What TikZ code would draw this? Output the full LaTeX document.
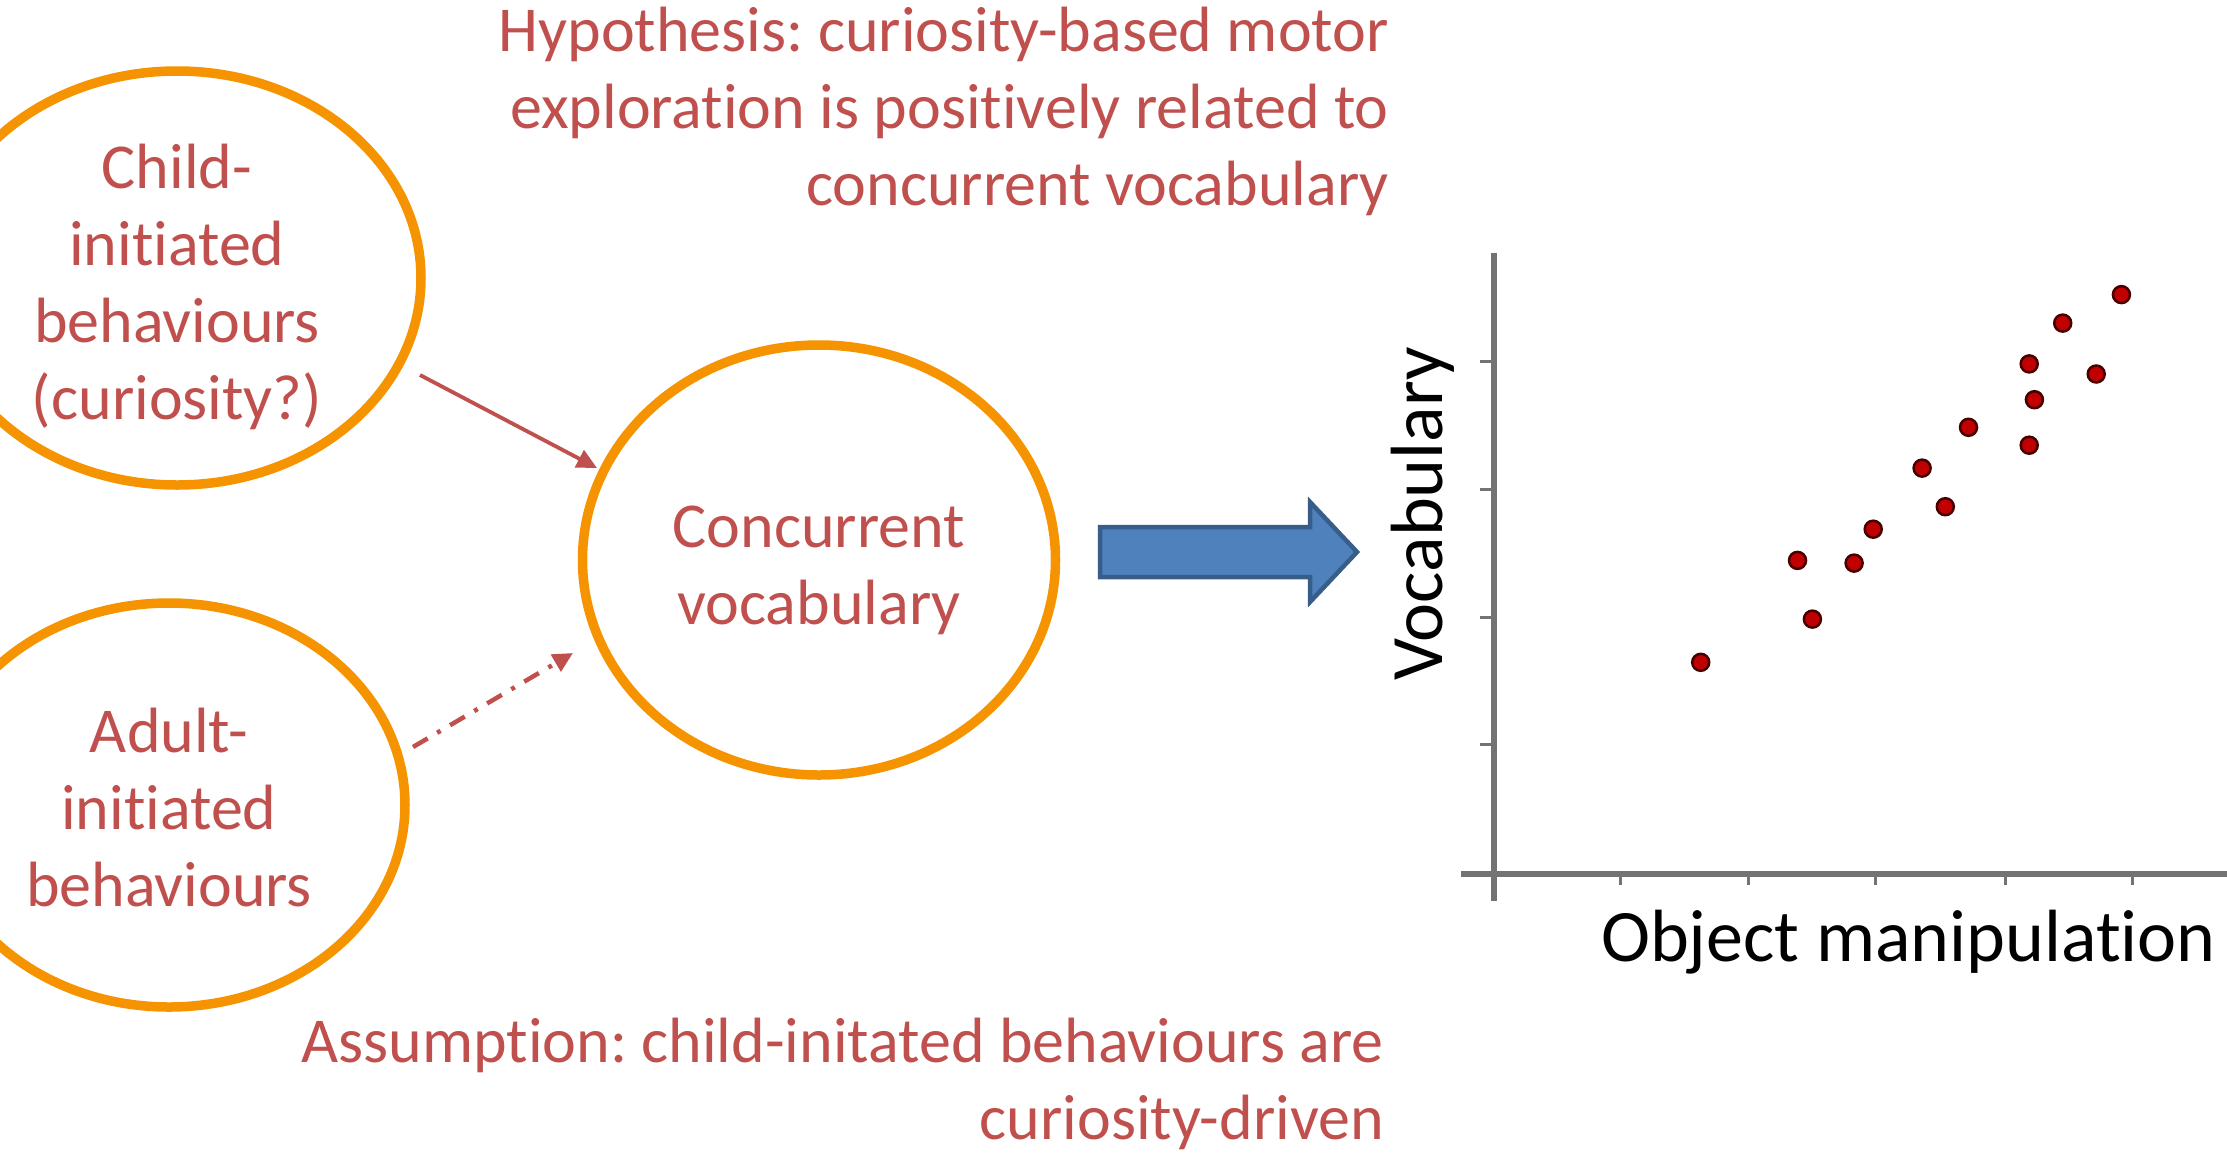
\documentclass[tikz,border=0pt]{standalone}
\usepackage{fontspec}
\setmainfont{Carlito}[Ligatures=NoCommon]
\usetikzlibrary{arrows.meta,shapes.geometric,calc}
\definecolor{txtred}{RGB}{192,80,77}
\definecolor{orng}{RGB}{245,147,0}
\definecolor{bfill}{RGB}{79,129,189}
\definecolor{bdraw}{RGB}{56,93,138}
\definecolor{dotred}{RGB}{192,0,0}
\definecolor{dotedge}{RGB}{70,0,0}
\definecolor{axgray}{RGB}{115,115,115}
\frenchspacing
\begin{document}
\begin{tikzpicture}[x=1pt,y=-1pt,
  oval/.style={draw=orng,line width=9.5pt,ellipse,inner sep=0pt},
  lbl/.style={text=txtred,font=\fontsize{64}{77}\selectfont,inner sep=0pt},
  rel/.style={draw=txtred,line width=3.8pt,-{Triangle[length=20pt,width=19pt]}},
  reldash/.style={rel,line width=4.5pt,dash pattern=on 17pt off 11pt on 4pt off 11pt},
  bigarrow/.style={fill=bfill,draw=bdraw,line width=4.5pt,line join=miter},
  axis/.style={draw=axgray,line width=6pt},
  tick/.style={draw=axgray,line width=3pt},
  pt/.style={circle,fill=dotred,draw=dotedge,line width=2.5pt,inner sep=0pt,minimum size=17pt},
  axlbl/.style={text=black,font=\fontsize{74}{88}\selectfont,inner sep=0pt}]
\useasboundingbox (0,0) rectangle (2227,1170);
% ellipses
\node[oval,minimum width=488pt,minimum height=414pt] (child) at (177,278) {};
\node[oval,minimum width=472pt,minimum height=404pt] (adult) at (169,805) {};
\node[oval,minimum width=473pt,minimum height=430pt] (conc) at (819,560) {};
\node[lbl,align=center] (childt) at ($(child.center)+(0,8.5)$) {Child-\\initiated\\behaviours\\(curiosity?)};
\node[lbl,align=center] (adultt) at ($(adult.center)+(0,2.5)$) {Adult-\\initiated\\behaviours};
\node[lbl,align=center] (conct) at ($(conc.center)+(0,10)$) {Concurrent\\vocabulary};
% connectors
\coordinate (s1) at ($(child.center)+(243,97)$);
\coordinate (e1) at ($(conc.center)+(-222,-92)$);
\coordinate (s2) at ($(adult.center)+(244,-58)$);
\coordinate (e2) at ($(conc.center)+(-246,93)$);
\draw[rel] (s1) -- (e1);
\draw[reldash] (s2) -- (e2);
% texts
\node[lbl,align=right,anchor=base east] (hyp) at (1389,205) {Hypothesis: curiosity-based motor\\exploration is positively related to\\concurrent vocabulary};
\node[lbl,align=right,anchor=base east] (ass) at (1384,1139) {Assumption: child-initated behaviours are\\curiosity-driven};
% big arrow
\draw[bigarrow] (1100,527) -- (1310,527) -- (1310,502) -- (1357,552) -- (1310,602) -- (1310,577) -- (1100,577) -- cycle;
% scatter plot
\draw[axis] (1493.5,253) -- (1493.5,901);
\draw[axis] (1461,873.5) -- (2227,873.5);
\foreach \yy in {361.6,489.2,617.3,744} \draw[tick] (1480,\yy) -- (1493.5,\yy);
\foreach \xx in {1620.9,1748,1875.3,2005,2132.2} \draw[tick] (\xx,873.5) -- (\xx,885);
\foreach \px/\py in {1700.7/662.3,1797.5/560.4,1812.4/619.1,1854.1/563.1,1873.2/529.2,1922.1/468.1,1945.3/506.7,1968.5/427.3,2029.2/363.9,2034.4/399.7,2029.2/445.2,2062.7/323.1,2096.2/374.0,2121.4/294.6}
  \node[pt] at (\px,\py) {};
\node[axlbl,rotate=90,anchor=base] (vlab) at (1442,514) {Vocabulary};
\node[axlbl,anchor=base east] (olab) at (2216,961) {Object manipulation};
\end{tikzpicture}
\end{document}
